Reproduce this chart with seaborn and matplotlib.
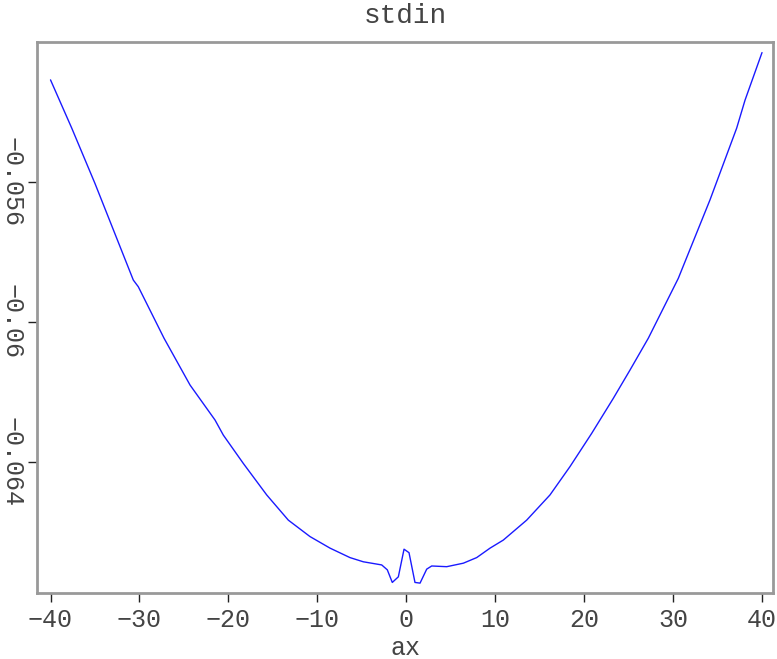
import numpy as np
import pandas as pd
import matplotlib
matplotlib.use("Agg")
import matplotlib.pyplot as plt
import seaborn as sns

# values
ax_vals = [-40.0, -37.61, -35.00, -30.69, -30.13, -27.24, -24.31, -21.50, -20.57,
           -18.32, -15.69, -13.26, -10.82, -8.57, -6.33, -4.83, -2.76, -2.13,
           -1.57, -0.89, -0.25, 0.31, 0.98, 1.55, 2.30, 2.86, 4.55, 6.42, 7.92,
           9.42, 10.91, 13.54, 16.16, 18.41, 20.85, 23.28, 25.16, 27.22, 30.59,
           30.97, 34.15, 37.15, 38.09, 40.0]
stdin_vals = [-0.05309, -0.05447, -0.05605, -0.05881, -0.05900, -0.06047, -0.06181,
              -0.06281, -0.06324, -0.06405, -0.06495, -0.06567, -0.06614, -0.06647,
              -0.06674, -0.06686, -0.06695, -0.06709, -0.06745, -0.06729, -0.06650,
              -0.06660, -0.06745, -0.06747, -0.06707, -0.06698, -0.06700, -0.06690,
              -0.06674, -0.06647, -0.06624, -0.06567, -0.06495, -0.06414, -0.06319,
              -0.06219, -0.06138, -0.06047, -0.05876, -0.05852, -0.05652, -0.05447,
              -0.05367, -0.05231]
xticks = [-40, -30, -20, -10, 0, 10, 20, 30, 40]
yticks = [-0.056, -0.06, -0.064]
ytick_labels = ["\u22120.056", "\u22120.06", "\u22120.064"]

sns.set_style("white")
plt.rcParams["font.family"] = ["Liberation Mono", "DejaVu Sans Mono"]

df = pd.DataFrame({"ax": ax_vals, "stdin": stdin_vals})

fig = plt.figure(figsize=(7.77, 6.59), dpi=100)
ax = fig.add_axes([0.0476, 0.1002, 0.9473, 0.8368])
sns.lineplot(data=df, x="ax", y="stdin", color="#1a1aff", lw=1, ax=ax)

ax.set_xlim(-41.52, 41.24)
ax.set_ylim(-0.067751, -0.051994)
ax.set_xticks(xticks)
ax.set_xticklabels([str(t).replace("-", "\u2212") for t in xticks])
ax.set_yticks(yticks)
ax.set_yticklabels(ytick_labels, rotation=-90, va="center")

for s in ax.spines.values():
    s.set_color("#999999")
    s.set_linewidth(2)

ax.tick_params(axis="both", direction="out", length=6.5, width=1, color="#222222",
               labelsize=18, labelcolor="#444444")
ax.tick_params(axis="x", pad=4, bottom=True)
ax.tick_params(axis="y", pad=3, left=True)

ax.set_xlabel("ax", fontsize=18, color="#444444", labelpad=3)
ax.set_ylabel("")
ax.set_title("stdin", fontsize=20, color="#444444", pad=13)

fig.savefig("out.png", dpi=100)
